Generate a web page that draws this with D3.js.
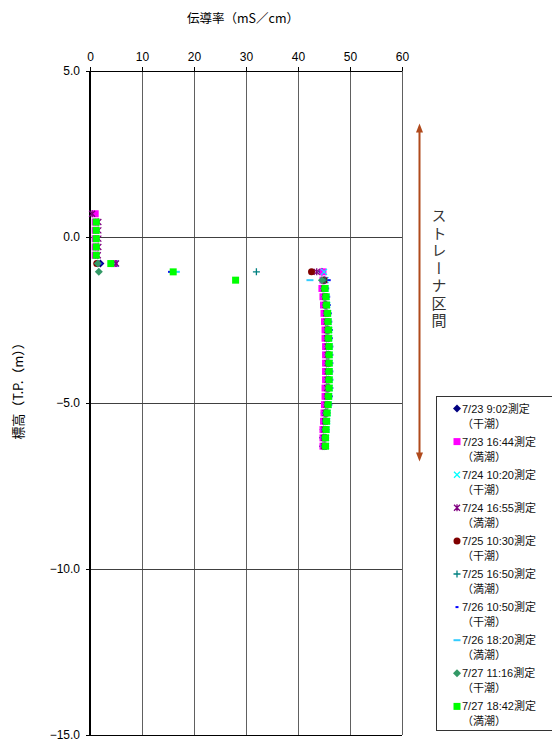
<!DOCTYPE html>
<html><head><meta charset="utf-8">
<script src="https://cdn.jsdelivr.net/npm/d3@7"></script>
<style>
html,body{margin:0;padding:0;background:#fff;}
svg{display:block;}
text{font-family:"Liberation Sans","Noto Sans CJK JP",sans-serif;}
</style></head>
<body>
<svg id="chart" width="552" height="742"></svg>
<script>
// ---------- data ----------
const xTicks = [0, 10, 20, 30, 40, 50, 60];
const yTicks = [5, 0, -5, -10, -15];
const elevations = [0.7, 0.45, 0.2, -0.05, -0.3, -0.55, -0.8, -1.05, -1.3, -1.55, -1.8, -2.05, -2.3, -2.55, -2.8, -3.05, -3.3, -3.55, -3.8, -4.05, -4.3, -4.55, -4.8, -5.05, -5.3, -5.55, -5.8, -6.05, -6.3];

const seriesNames = ["7/23 9:02測定", "7/23 16:44測定", "7/24 10:20測定", "7/24 16:55測定", "7/25 10:30測定", "7/25 16:50測定", "7/26 10:50測定", "7/26 18:20測定", "7/27 11:16測定", "7/27 18:42測定"];
const seriesTide = ["（干潮）", "（満潮）", "（干潮）", "（満潮）", "（干潮）", "（満潮）", "（干潮）", "（満潮）", "（干潮）", "（満潮）"];

const s0723a = [null, null, null, null, null, null, 2.0, 44.6, 45.0, 44.8, 45.0, 45.1, 45.2, 45.3, 45.4, 45.4, 45.5, 45.5, 45.5, 45.5, 45.5, 45.4, 45.4, 45.3, 45.1, 45.0, 44.9, 44.8, 44.8];
const s0723b = [1.0, 1.0, 1.0, 1.0, 1.0, 1.0, 4.7, 44.8, 44.8, 44.6, 44.8, 44.9, 45.0, 45.1, 45.2, 45.2, 45.3, 45.3, 45.3, 45.3, 45.3, 45.2, 45.2, 45.1, 45.0, 44.9, 44.8, 44.8, 44.8];
const s0724a = [null, null, null, null, null, null, 4.9, 45.0, 45.3, 45.3, 45.5, 45.6, 45.8, 45.9, 46.0, 46.0, 46.1, 46.1, 46.1, 46.1, 46.1, 46.1, 46.0, 45.9, 45.7, 45.6, 45.5, 45.4, 45.4];
const s0724b = [0.4, 1.6, 1.6, 1.6, 1.6, 1.5, 5.0, 43.6, 45.1, 45.0, 45.2, 45.3, 45.4, 45.5, 45.6, 45.6, 45.7, 45.7, 45.7, 45.7, 45.7, 45.6, 45.6, 45.5, 45.3, 45.2, 45.1, 45.0, 45.0];
const s0725a = [null, null, null, null, null, null, 1.3, 42.6, 45.0, 45.1, 45.3, 45.4, 45.6, 45.7, 45.8, 45.8, 45.9, 45.9, 45.9, 45.9, 45.9, 45.9, 45.8, 45.7, 45.5, 45.4, 45.3, 45.2, 45.2];
const s0725b = [null, null, null, null, null, null, null, 32.0, 45.2, 45.2, 45.4, 45.5, 45.7, 45.8, 45.9, 45.9, 46.0, 46.0, 46.0, 46.0, 46.0, 46.0, 45.9, 45.8, 45.6, 45.5, 45.4, 45.3, 45.3];
const s0726a = [null, null, null, null, null, null, 2.1, 15.3, 46.0, 45.7, 45.9, 46.0, 46.2, 46.3, 46.4, 46.4, 46.5, 46.5, 46.5, 46.5, 46.5, 46.5, 46.4, 46.3, 45.0, 44.9, 44.8, 44.7, 44.7];
const s0726b = [null, null, null, null, null, null, null, 16.6, 42.3, 45.2, 45.4, 45.5, 45.7, 45.8, 45.9, 45.9, 46.0, 46.0, 46.0, 46.0, 46.0, 46.0, 45.9, 45.8, 45.6, 45.5, 45.4, 45.3, 45.3];
const s0727a = [null, null, null, null, null, null, 1.5, 1.7, 44.6, 45.0, 45.2, 45.3, 45.5, 45.6, 45.7, 45.7, 45.8, 45.8, 45.8, 45.8, 45.8, 45.8, 45.7, 45.6, 45.4, 45.3, 45.2, 45.1, 45.1];
const s0727b = [null, 1.2, 1.2, 1.2, 1.2, 1.2, 4.0, 16.0, 28.0, 45.2, 45.4, 45.5, 45.7, 45.8, 45.9, 45.9, 46.0, 46.0, 46.0, 46.0, 46.0, 46.0, 45.9, 45.8, 45.6, 45.5, 45.4, 45.3, 45.3];

const seriesValues = [s0723a, s0723b, s0724a, s0724b, s0725a, s0725b, s0726a, s0726b, s0727a, s0727b];
const seriesMarker = ["diamond", "square", "x", "star", "circle", "plus", "dot", "dash", "diamond", "square"];
const seriesColor = ["#000080", "#ff00ff", "#00ffff", "#800080", "#800000", "#008080", "#0000ff", "#33ccff", "#339966", "#00ff00"];

// ---------- layout ----------
const svg = d3.select("#chart");
const x = d3.scaleLinear().domain([0, 60]).range([90, 402]);
const y = d3.scaleLinear().domain([5, -15]).range([71, 735]);

// grid
const grid = svg.append("g");
grid.selectAll("line.v").data(xTicks.slice(1, -1)).join("line")
  .attr("x1", d => Math.round(x(d)) + 0.5).attr("x2", d => Math.round(x(d)) + 0.5)
  .attr("y1", y(5)).attr("y2", y(-15))
  .attr("stroke", "#606060").attr("stroke-width", 1);
grid.selectAll("line.h").data(yTicks.slice(1, -1)).join("line")
  .attr("y1", d => Math.round(y(d)) + 0.5).attr("y2", d => Math.round(y(d)) + 0.5)
  .attr("x1", x(0)).attr("x2", x(60))
  .attr("stroke", "#404040").attr("stroke-width", 1);

// frame
svg.append("line").attr("x1", x(0)).attr("x2", x(60)).attr("y1", y(5) + 0.5).attr("y2", y(5) + 0.5).attr("stroke", "#000");
svg.append("line").attr("x1", x(60) + 0.5).attr("x2", x(60) + 0.5).attr("y1", y(5)).attr("y2", y(-15)).attr("stroke", "#606060");
svg.append("line").attr("x1", x(0)).attr("x2", x(60)).attr("y1", y(-15) + 0.5).attr("y2", y(-15) + 0.5).attr("stroke", "#000");
svg.append("line").attr("x1", x(0)).attr("x2", x(0)).attr("y1", y(5)).attr("y2", y(-15)).attr("stroke", "#000").attr("stroke-width", 2);

// axes
const xAxis = svg.append("g").attr("transform", `translate(0,${y(5)})`)
  .call(d3.axisTop(x).tickValues(xTicks).tickSize(4).tickPadding(6).tickFormat(d3.format("d")));
xAxis.select(".domain").remove();
xAxis.selectAll("text").attr("font-size", 12).attr("fill", "#000").style("font-family", "Liberation Sans, sans-serif");

const yAxis = svg.append("g").attr("transform", `translate(${x(0)},0)`)
  .call(d3.axisLeft(y).tickValues(yTicks).tickSize(4).tickPadding(6).tickFormat(d3.format(".1f")));
yAxis.select(".domain").remove();
yAxis.selectAll("text").attr("font-size", 12).attr("fill", "#000").style("font-family", "Liberation Sans, sans-serif");

// titles
svg.append("text").attr("x", 243).attr("y", 23).attr("text-anchor", "middle")
  .attr("font-size", 12.5).style("font-family", "Noto Sans CJK JP, sans-serif").attr("fill", "#000")
  .text("伝導率（mS／cm）");
svg.append("text").attr("transform", "translate(23,388) rotate(-90)").attr("text-anchor", "middle")
  .attr("font-size", 13).style("font-family", "Noto Sans CJK JP, sans-serif").attr("fill", "#000")
  .text("標高（T.P.（m））");

// strainer arrow
const arrowColor = "#b04a1c";
const ax = 419.5, aTop = 123.5, aBot = 461.5;
svg.append("line").attr("x1", ax).attr("x2", ax).attr("y1", aTop + 6).attr("y2", aBot - 6)
  .attr("stroke", arrowColor).attr("stroke-width", 2);
svg.append("path").attr("d", `M${ax},${aTop} L${ax + 3.5},${aTop + 9} L${ax - 3.5},${aTop + 9} Z`).attr("fill", arrowColor);
svg.append("path").attr("d", `M${ax},${aBot} L${ax + 3.5},${aBot - 9} L${ax - 3.5},${aBot - 9} Z`).attr("fill", arrowColor);
svg.append("text").attr("x", 439).attr("y", 208)
  .style("writing-mode", "vertical-rl").style("font-family", "Noto Sans CJK JP, sans-serif")
  .attr("font-size", 15).attr("letter-spacing", 2.5).attr("fill", "#333")
  .text("ストレーナ区間");

// markers
function markerPath(type) {
  switch (type) {
    case "diamond": return "M0,-4L4,0L0,4L-4,0Z";
    case "square": return "M-3.5,-3.5H3.5V3.5H-3.5Z";
    case "circle": return "M3.5,0A3.5,3.5 0 1,1 -3.5,0A3.5,3.5 0 1,1 3.5,0Z";
    case "x": return "M-3,-3L3,3M-3,3L3,-3";
    case "star": return "M-3,-3L3,3M-3,3L3,-3M0,-3.5V3.5";
    case "plus": return "M-3.5,0H3.5M0,-3.5V3.5";
    case "dot": return "M-1.5,-1H1.5V1H-1.5Z";
    case "dash": return "M-3.5,-1H3.5V1H-3.5Z";
  }
}
function styleMarker(sel, type, color) {
  const stroked = (type === "x" || type === "star" || type === "plus");
  sel.attr("d", markerPath(type))
    .attr("fill", stroked ? "none" : color)
    .attr("stroke", stroked ? color : "none")
    .attr("stroke-width", stroked ? 1.3 : 0);
}

const plot = svg.append("g");
seriesValues.forEach((vals, i) => {
  const pts = vals.map((v, k) => ({ v, e: elevations[k] })).filter(p => p.v !== null);
  const g = plot.append("g");
  g.selectAll("path").data(pts).join("path")
    .attr("transform", p => `translate(${x(p.v)},${y(p.e)})`)
    .call(styleMarker, seriesMarker[i], seriesColor[i]);
});

// legend
const leg = svg.append("g");
leg.append("rect").attr("x", 436.5).attr("y", 396.5).attr("width", 130).attr("height", 334)
  .attr("fill", "#fff").attr("stroke", "#333").attr("stroke-width", 1);
const itemGap = 33.1;
seriesNames.forEach((name, i) => {
  const cy = 408.5 + i * itemGap;
  leg.append("path").attr("transform", `translate(457,${cy})`).call(styleMarker, seriesMarker[i], seriesColor[i]);
  leg.append("text").attr("x", 462).attr("y", cy + 4).attr("font-size", 11).attr("fill", "#111").text(name);
  leg.append("text").attr("x", 462).attr("y", cy + 19).attr("font-size", 11).attr("fill", "#111")
    .style("font-family", "Noto Sans CJK JP, sans-serif").text(seriesTide[i]);
});
</script>
</body></html>
